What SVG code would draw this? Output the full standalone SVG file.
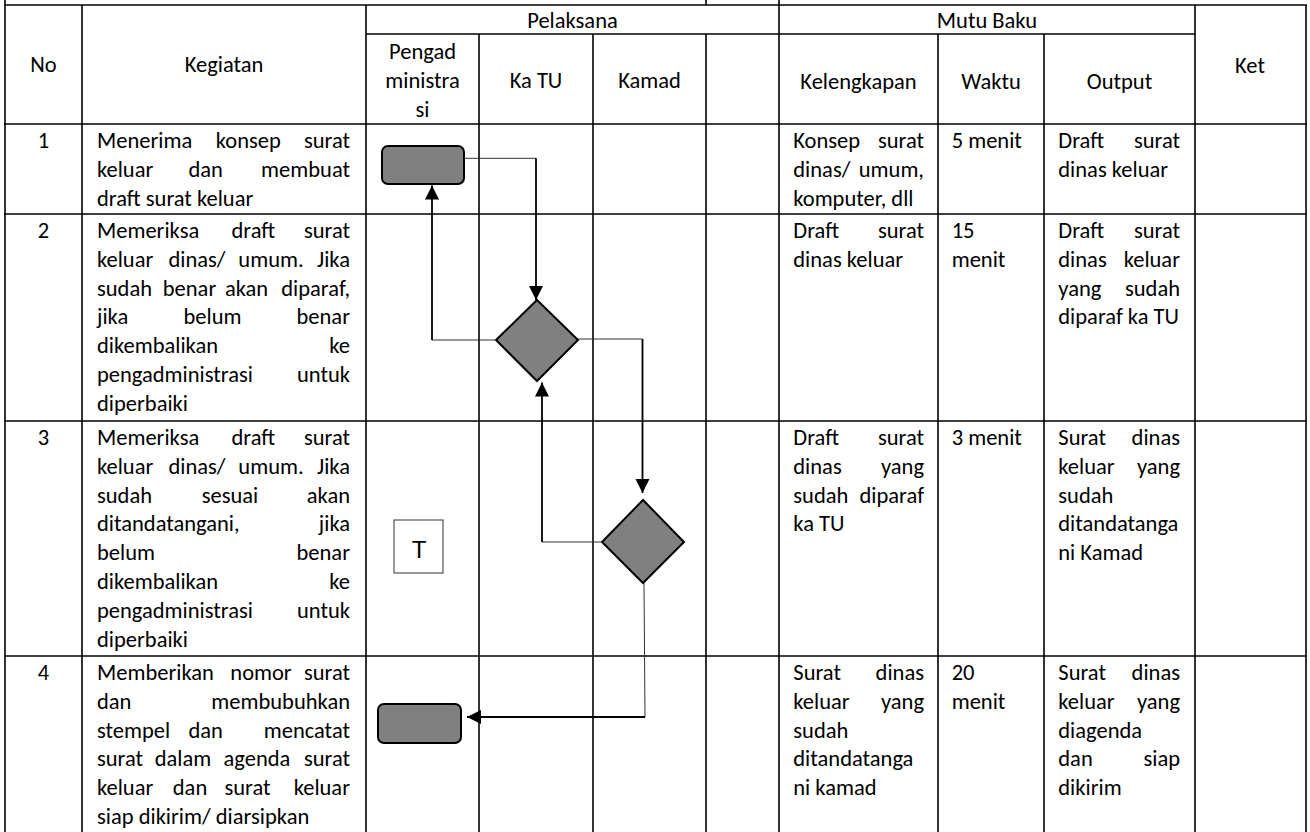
<svg xmlns="http://www.w3.org/2000/svg" width="1310" height="832" viewBox="0 0 1310 832">
<style>
.g{stroke:#000;stroke-width:1.6;fill:none}
.tx{font-family:Carlito,Lato,"Liberation Sans",sans-serif;font-size:22.5px;fill:#000}
.m{text-anchor:middle}
.e{text-anchor:end}
.shape{fill:#808080;stroke:#000;stroke-width:2}
.thin{stroke:#333;stroke-width:1;fill:none}
.thick{stroke:#000;stroke-width:1.8;fill:none}
</style>
<defs>
<marker id="ah" markerUnits="userSpaceOnUse" markerWidth="15" markerHeight="15" refX="14" refY="7" orient="auto">
<path d="M0,0 L14,7 L0,14 z" fill="#000"/>
</marker>
</defs>
<rect width="1310" height="832" fill="#fff"/>
<g id="table">
<line class="g" x1="4" y1="5" x2="1307" y2="5"/>
<line class="g" x1="366" y1="34" x2="1195" y2="34"/>
<line class="g" x1="4" y1="124" x2="1307" y2="124"/>
<line class="g" x1="4" y1="214" x2="1307" y2="214"/>
<line class="g" x1="4" y1="421" x2="1307" y2="421"/>
<line class="g" x1="4" y1="656" x2="1307" y2="656"/>
<line class="g" x1="5" y1="0" x2="5" y2="832"/>
<line class="g" x1="82" y1="5" x2="82" y2="832"/>
<line class="g" x1="366" y1="5" x2="366" y2="832"/>
<line class="g" x1="479" y1="34" x2="479" y2="832"/>
<line class="g" x1="593" y1="34" x2="593" y2="832"/>
<line class="g" x1="706" y1="34" x2="706" y2="832"/>
<line class="g" x1="706" y1="0" x2="706" y2="5"/>
<line class="g" x1="779" y1="0" x2="779" y2="832"/>
<line class="g" x1="938" y1="34" x2="938" y2="832"/>
<line class="g" x1="1044" y1="34" x2="1044" y2="832"/>
<line class="g" x1="1195" y1="5" x2="1195" y2="832"/>
<line class="g" x1="1306" y1="5" x2="1306" y2="832"/>
</g>
<g id="headers" class="tx">
<text class="m" x="43.5" y="71.5">No</text>
<text class="m" x="224" y="71.5">Kegiatan</text>
<text class="m" x="572.5" y="27.5">Pelaksana</text>
<text class="m" x="422.5" y="59">Pengad</text>
<text class="m" x="422.5" y="88">ministra</text>
<text class="m" x="422.5" y="117">si</text>
<text class="m" x="536" y="88">Ka TU</text>
<text class="m" x="649.5" y="88">Kamad</text>
<text class="m" x="987" y="27.5">Mutu Baku</text>
<text class="m" x="858.5" y="89">Kelengkapan</text>
<text class="m" x="991" y="89">Waktu</text>
<text class="m" x="1119.5" y="89">Output</text>
<text class="m" x="1250" y="72.5">Ket</text>
</g>
<g id="row1" class="tx">
<text class="m" x="43.5" y="148">1</text>
<text x="97" y="148">Menerima</text><text class="m" x="248.3" y="148">konsep</text><text class="e" x="350" y="148">surat</text>
<text x="97" y="176.8">keluar</text><text class="m" x="205.7" y="176.8">dan</text><text class="e" x="350" y="176.8">membuat</text>
<text x="97" y="205.6">draft surat keluar</text>
<text x="793.3" y="148">Konsep</text><text class="e" x="924" y="148">surat</text>
<text x="793.3" y="176.8">dinas/</text><text class="e" x="924" y="176.8">umum,</text>
<text x="793.3" y="205.6">komputer, dll</text>
<text x="951.7" y="148">5 menit</text>
<text x="1058.3" y="148">Draft</text><text class="e" x="1180" y="148">surat</text>
<text x="1058.3" y="176.8">dinas keluar</text>
</g>
<g id="row2" class="tx">
<text class="m" x="43.5" y="238">2</text>
<text x="97" y="238">Memeriksa</text><text class="m" x="253.3" y="238">draft</text><text class="e" x="350" y="238">surat</text>
<text x="97" y="266.8">keluar</text><text class="m" x="197" y="266.8">dinas/</text><text class="m" x="271" y="266.8">umum.</text><text class="e" x="350" y="266.8">Jika</text>
<text x="97" y="295.6">sudah</text><text class="m" x="189.5" y="295.6">benar</text><text class="m" x="246.5" y="295.6">akan</text><text class="e" x="350" y="295.6">diparaf,</text>
<text x="97" y="324.4">jika</text><text class="m" x="212.5" y="324.4">belum</text><text class="e" x="350" y="324.4">benar</text>
<text x="97" y="353.2">dikembalikan</text><text class="e" x="350" y="353.2">ke</text>
<text x="97" y="382">pengadministrasi</text><text class="e" x="350" y="382">untuk</text>
<text x="97" y="410.8">diperbaiki</text>
<text x="793.3" y="238">Draft</text><text class="e" x="924" y="238">surat</text>
<text x="793.3" y="266.8">dinas keluar</text>
<text x="951.7" y="238">15</text>
<text x="951.7" y="266.8">menit</text>
<text x="1058.3" y="238">Draft</text><text class="e" x="1180" y="238">surat</text>
<text x="1058.3" y="266.8">dinas</text><text class="e" x="1180" y="266.8">keluar</text>
<text x="1058.3" y="295.6">yang</text><text class="e" x="1180" y="295.6">sudah</text>
<text x="1058.3" y="324.4">diparaf ka TU</text>
</g>
<g id="row3" class="tx">
<text class="m" x="43.5" y="445">3</text>
<text x="97" y="445">Memeriksa</text><text class="m" x="253.3" y="445">draft</text><text class="e" x="350" y="445">surat</text>
<text x="97" y="473.8">keluar</text><text class="m" x="197" y="473.8">dinas/</text><text class="m" x="271" y="473.8">umum.</text><text class="e" x="350" y="473.8">Jika</text>
<text x="97" y="502.6">sudah</text><text class="m" x="230" y="502.6">sesuai</text><text class="e" x="350" y="502.6">akan</text>
<text x="97" y="531.4">ditandatangani,</text><text class="e" x="350" y="531.4">jika</text>
<text x="97" y="560.2">belum</text><text class="e" x="350" y="560.2">benar</text>
<text x="97" y="589">dikembalikan</text><text class="e" x="350" y="589">ke</text>
<text x="97" y="617.8">pengadministrasi</text><text class="e" x="350" y="617.8">untuk</text>
<text x="97" y="646.6">diperbaiki</text>
<text x="793.3" y="445">Draft</text><text class="e" x="924" y="445">surat</text>
<text x="793.3" y="473.8">dinas</text><text class="e" x="924" y="473.8">yang</text>
<text x="793.3" y="502.6">sudah</text><text class="e" x="924" y="502.6">diparaf</text>
<text x="793.3" y="531.4">ka TU</text>
<text x="951.7" y="445">3 menit</text>
<text x="1058.3" y="445">Surat</text><text class="e" x="1180" y="445">dinas</text>
<text x="1058.3" y="473.8">keluar</text><text class="e" x="1180" y="473.8">yang</text>
<text x="1058.3" y="502.6">sudah</text>
<text x="1058.3" y="531.4">ditandatanga</text>
<text x="1058.3" y="560.2">ni Kamad</text>
</g>
<g id="row4" class="tx">
<text class="m" x="43.5" y="680">4</text>
<text x="97" y="680">Memberikan</text><text class="m" x="261" y="680">nomor</text><text class="e" x="350" y="680">surat</text>
<text x="97" y="708.8">dan</text><text class="e" x="350" y="708.8">membubuhkan</text>
<text x="97" y="737.6">stempel</text><text class="m" x="205.7" y="737.6">dan</text><text class="e" x="350" y="737.6">mencatat</text>
<text x="97" y="766.4">surat</text><text class="m" x="183" y="766.4">dalam</text><text class="m" x="257" y="766.4">agenda</text><text class="e" x="350" y="766.4">surat</text>
<text x="97" y="795.2">keluar</text><text class="m" x="190" y="795.2">dan</text><text class="m" x="247.5" y="795.2">surat</text><text class="e" x="350" y="795.2">keluar</text>
<text x="97" y="824">siap dikirim/ diarsipkan</text>
<text x="793.3" y="680">Surat</text><text class="e" x="924" y="680">dinas</text>
<text x="793.3" y="708.8">keluar</text><text class="e" x="924" y="708.8">yang</text>
<text x="793.3" y="737.6">sudah</text>
<text x="793.3" y="766.4">ditandatanga</text>
<text x="793.3" y="795.2">ni kamad</text>
<text x="951.7" y="680">20</text>
<text x="951.7" y="708.8">menit</text>
<text x="1058.3" y="680">Surat</text><text class="e" x="1180" y="680">dinas</text>
<text x="1058.3" y="708.8">keluar</text><text class="e" x="1180" y="708.8">yang</text>
<text x="1058.3" y="737.6">diagenda</text>
<text x="1058.3" y="766.4">dan</text><text class="e" x="1180" y="766.4">siap</text>
<text x="1058.3" y="795.2">dikirim</text>
</g>
<g id="node-start">
<rect class="shape" x="382" y="146" width="82" height="38" rx="6"/>
</g>
<g id="node-decision-katu">
<polygon class="shape" points="537,300 578,340 537,381 496,340"/>
</g>
<g id="node-decision-kamad">
<polygon class="shape" points="643,500 684,542 643,583 602,542"/>
</g>
<g id="node-end">
<rect class="shape" x="378" y="704" width="83" height="39" rx="6"/>
</g>
<g id="node-t">
<rect x="394" y="520" width="49" height="53" fill="#fff" stroke="#333" stroke-width="1"/>
<text x="419" y="558" font-family="Liberation Sans, Arial, sans-serif" font-size="24" text-anchor="middle">T</text>
</g>
<g id="connectors">
<path class="thin" d="M464,158.3 H536"/>
<path class="thick" d="M536,158.3 V300" marker-end="url(#ah)"/>
<path class="thin" d="M496,340 H432"/>
<path class="thick" d="M432,340 V185.5" marker-end="url(#ah)"/>
<path class="thin" d="M578,339 H642.5"/>
<path class="thick" d="M642.5,339 V493" marker-end="url(#ah)"/>
<path class="thin" d="M602,542 H542"/>
<path class="thick" d="M542,542 V382.5" marker-end="url(#ah)"/>
<path class="thin" d="M644,583 L645,717"/>
<path class="thick" d="M645,717 H467" marker-end="url(#ah)"/>
</g>
</svg>
